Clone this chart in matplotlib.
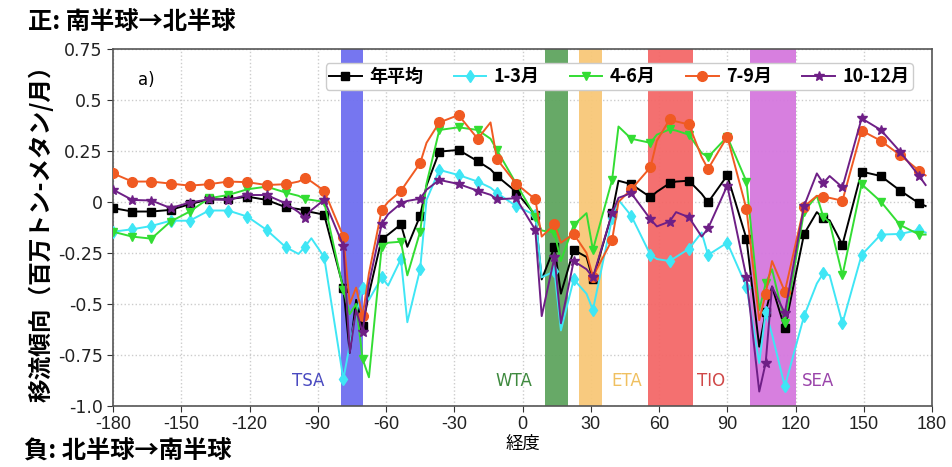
import matplotlib
matplotlib.use("Agg")
import matplotlib.pyplot as plt
import numpy as np

plt.rcParams["axes.unicode_minus"] = False

# ---------------- data ----------------
lon = [-180.0, -171.56, -163.13, -154.69, -146.25, -137.81, -129.38, -120.94, -112.5, -104.06,
       -98.44, -95.63, -92.81, -87.19, -78.75, -75.94, -73.13, -70.31, -67.5, -61.88,
       -59.06, -53.44, -50.63, -45.0, -42.19, -36.56, -28.13, -19.69, -14.06, -11.25,
       -2.81, 5.63, 8.44, 14.06, 16.88, 22.5, 28.13, 30.94, 39.38, 42.19,
       47.81, 56.25, 59.06, 64.69, 67.5, 73.13, 78.75, 81.56, 90.0, 98.44,
       104.06, 106.88, 109.69, 115.31, 123.75, 129.38, 132.19, 135.0, 140.63, 149.06,
       157.5, 165.94, 174.38, 177.19]
# 1 = point carries a marker
marked = [1, 1, 1, 1, 1, 1, 1, 1, 1, 1,
          0, 1, 0, 1, 1, 0, 0, 1, 0, 1,
          0, 1, 0, 1, 0, 1, 1, 1, 0, 1,
          1, 1, 0, 1, 0, 1, 0, 1, 1, 0,
          1, 1, 0, 1, 0, 1, 0, 1, 1, 1,
          0, 1, 0, 1, 1, 0, 1, 0, 1, 1,
          1, 1, 1, 0]

annual = [-0.03, -0.047, -0.047, -0.039, -0.011, 0.013, 0.013, 0.026, 0.01, -0.026,
          -0.035, -0.042, -0.05, -0.062, -0.42, -0.74, -0.48, -0.61, -0.45, -0.18,
          -0.16, -0.11, -0.22, -0.068, 0.08, 0.247, 0.255, 0.2, 0.16, 0.127,
          0.05, -0.065, -0.38, -0.22, -0.45, -0.235, -0.27, -0.38, -0.055, 0.104,
          0.087, 0.023, 0.05, 0.092, 0.1, 0.104, 0.04, -0.002, 0.13, -0.18,
          -0.71, -0.54, -0.415, -0.62, -0.157, -0.05, -0.08, -0.09, -0.21, 0.149,
          0.127, 0.056, -0.007, -0.02]
jfm = [-0.146, -0.134, -0.118, -0.092, -0.092, -0.042, -0.042, -0.072, -0.137, -0.222,
       -0.255, -0.22, -0.178, -0.27, -0.87, -0.7, -0.55, -0.42, -0.48, -0.37,
       -0.41, -0.28, -0.59, -0.33, 0.01, 0.157, 0.132, 0.1, 0.07, 0.044,
       -0.02, -0.065, -0.37, -0.34, -0.63, -0.38, -0.45, -0.53, -0.08, 0.01,
       -0.068, -0.26, -0.28, -0.29, -0.27, -0.23, -0.15, -0.26, -0.2, -0.415,
       -0.79, -0.54, -0.65, -0.905, -0.56, -0.4, -0.35, -0.36, -0.595, -0.26,
       -0.16, -0.157, -0.137, -0.15]
amj = [-0.146, -0.17, -0.18, -0.096, -0.047, 0.018, 0.034, 0.062, 0.075, 0.046,
       0.03, 0.013, 0.01, 0.0, -0.43, -0.55, -0.5, -0.77, -0.86, -0.22,
       -0.2, -0.195, -0.36, -0.146, 0.09, 0.353, 0.366, 0.353, 0.31, 0.255,
       0.09, -0.072, -0.14, -0.15, -0.29, -0.113, -0.055, -0.235, 0.108, 0.37,
       0.31, 0.29, 0.33, 0.356, 0.35, 0.33, 0.24, 0.22, 0.32, 0.1,
       -0.53, -0.4, -0.33, -0.595, -0.047, 0.03, -0.072, -0.1, -0.36, 0.087,
       0.002, -0.113, -0.16, -0.16]
jas = [0.14, 0.1, 0.1, 0.09, 0.08, 0.087, 0.1, 0.097, 0.083, 0.087,
       0.1, 0.116, 0.1, 0.055, -0.17, -0.5, -0.42, -0.56, -0.35, -0.039,
       0.0, 0.054, 0.1, 0.19, 0.29, 0.39, 0.426, 0.31, 0.39, 0.21,
       0.09, 0.013, -0.17, -0.11, -0.2, -0.157, -0.25, -0.366, -0.186, 0.0,
       0.062, 0.17, 0.3, 0.405, 0.395, 0.38, 0.22, 0.162, 0.32, -0.034,
       -0.58, -0.45, -0.29, -0.44, -0.023, 0.03, 0.026, 0.02, 0.006, 0.35,
       0.3, 0.23, 0.153, 0.13]
ond = [0.06, 0.01, 0.007, -0.03, -0.003, 0.013, 0.01, 0.034, 0.034, -0.007,
       -0.05, -0.08, -0.04, 0.01, -0.216, -0.74, -0.53, -0.64, -0.4, -0.108,
       -0.06, -0.007, 0.005, 0.016, 0.06, 0.108, 0.088, 0.055, 0.035, 0.013,
       0.018, -0.137, -0.56, -0.27, -0.595, -0.29, -0.33, -0.37, -0.055, 0.02,
       0.043, -0.085, -0.12, -0.096, -0.05, -0.075, -0.17, -0.13, 0.08, -0.37,
       -0.93, -0.79, -0.415, -0.546, -0.02, 0.14, 0.092, 0.127, 0.072, 0.41,
       0.353, 0.247, 0.127, 0.083]

series_labels = ["年平均", "1-3月", "4-6月", "7-9月", "10-12月"]

region_names = ["TSA", "WTA", "ETA", "TIO", "SEA"]
region_lon0 = [-80, 10, 25, 55, 100]
region_lon1 = [-70, 20, 35, 75, 120]
region_text_lon = [-94, -4, 46, 83, 130]

xticks = [-180, -150, -120, -90, -60, -30, 0, 30, 60, 90, 120, 150, 180]
yticks = [0.75, 0.5, 0.25, 0, -0.25, -0.5, -0.75, -1.0]
ytick_labels = ["0.75", "0.5", "0.25", "0", "-0.25", "-0.5", "-0.75", "-1.0"]

# ---------------- styling ----------------
CJK = ["Noto Sans CJK JP", "DejaVu Sans"]
series_colors = ["#000000", "#3fe6f5", "#33dd33", "#f05a22", "#6e1f86"]
series_markers = ["s", "d", "v", "o", "*"]
series_msize = [6, 6, 6, 7, 7]
band_colors = ["#6f6ff0", "#5fa55f", "#f8c878", "#f46868", "#d578de"]
band_text_colors = ["#4a4ac0", "#3f8a3f", "#f0c060", "#d04848", "#9a44aa"]

fig = plt.figure(figsize=(9.52, 4.67), dpi=100)
ax = fig.add_axes([0.1187, 0.131, 0.8603, 0.764])

for n, a, b, c in zip(region_names, region_lon0, region_lon1, band_colors):
    ax.axvspan(a, b, color=c, alpha=0.95, lw=0, zorder=1)
for n, tx, tc in zip(region_names, region_text_lon, band_text_colors):
    ax.text(tx, -0.88, n, color=tc, fontsize=12, ha="center", va="center", zorder=2)

mask = [bool(m) for m in marked]
allser = [annual, jfm, amj, jas, ond]
order = [1, 2, 3, 4, 0]
handles = {}
for i in order:
    h, = ax.plot(lon, allser[i], color=series_colors[i], marker=series_markers[i],
                 markersize=series_msize[i], markevery=mask, lw=1.4, zorder=3 + i * 0.1,
                 label=series_labels[i], clip_on=True)
    handles[i] = h

ax.set_xlim(-180, 180)
ax.set_ylim(-1.0, 0.75)
ax.set_xticks(xticks)
ax.set_yticks(yticks)
ax.set_yticklabels(ytick_labels)
ax.tick_params(axis="y", labelsize=12.5, colors="#333333", length=4)
ax.tick_params(axis="x", labelsize=13, colors="#333333", length=4)
for lab in ax.get_xticklabels():
    lab.set_family(["Liberation Sans", "DejaVu Sans"])
for lab in ax.get_xticklabels() + ax.get_yticklabels():
    lab.set_color("#222222")
ax.grid(True, color="#cccccc", ls=":", lw=1.0)
ax.set_axisbelow(True)
for s in ax.spines.values():
    s.set_color("#555555")
    s.set_linewidth(1.2)

ax.text(-169, 0.6, "a)", fontsize=12, ha="left", va="center")

leg = ax.legend([handles[i] for i in range(5)], series_labels, ncol=5, loc="upper right",
                bbox_to_anchor=(0.9875, 0.985), prop={"family": CJK, "weight": "bold", "size": 13},
                handlelength=1.8, handletextpad=0.4, columnspacing=1.7, borderpad=0.2,
                framealpha=1.0, edgecolor="#cccccc", fancybox=True)
leg.set_zorder(10)

ax.set_ylabel("移流傾向（百万トン-メタン/月）", family=CJK, fontweight="bold", fontsize=17, labelpad=3)
ax.set_xlabel("経度", family=CJK, fontsize=12.5, labelpad=1)

fig.text(0.029, 0.953, "正: 南半球→北半球", family=CJK, fontweight="bold", fontsize=17.5, ha="left", va="center")
fig.text(0.025, 0.032, "負: 北半球→南半球", family=CJK, fontweight="bold", fontsize=17.5, ha="left", va="center")

fig.savefig("out.png", dpi=100)
